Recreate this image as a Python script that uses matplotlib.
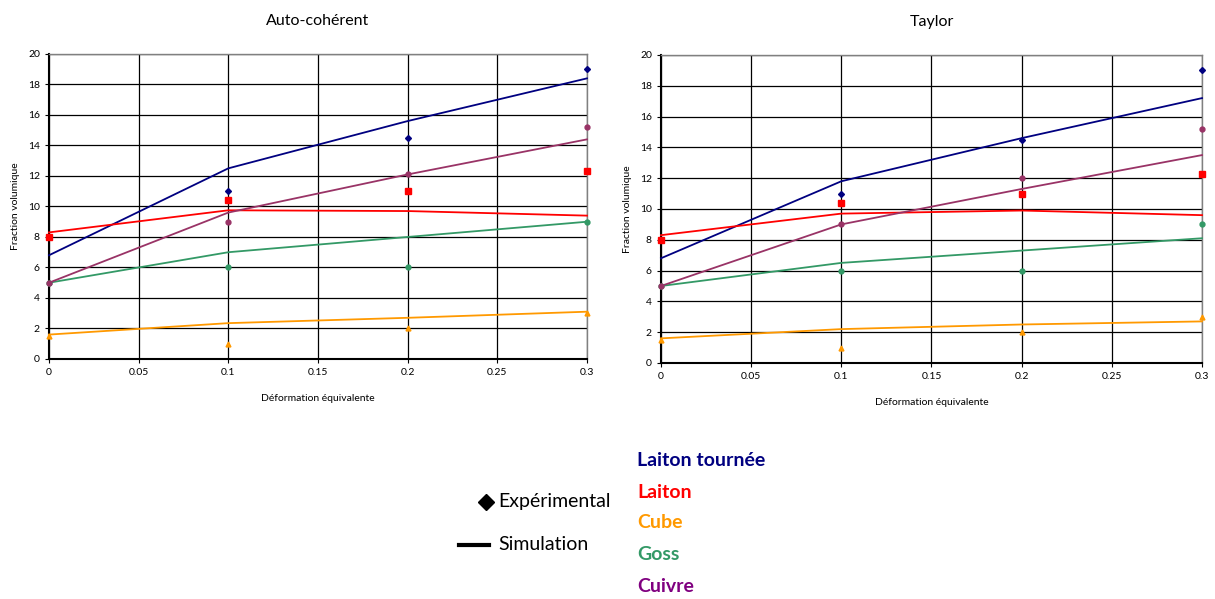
import matplotlib
matplotlib.use("Agg")
import matplotlib.pyplot as plt
from matplotlib.lines import Line2D

plt.rcParams['font.family'] = ['Lato', 'DejaVu Sans']

strain = [0, 0.1, 0.2, 0.3]
series_names = ["Laiton tournée", "Laiton", "Cube", "Goss", "Cuivre"]

# Auto-cohérent
ac_sim = {
    "Laiton tournée": [6.8, 12.5, 15.6, 18.4],
    "Laiton": [8.3, 9.75, 9.7, 9.4],
    "Cube": [1.6, 2.35, 2.7, 3.1],
    "Goss": [5.0, 7.0, 8.0, 9.0],
    "Cuivre": [5.0, 9.6, 12.1, 14.4],
}
# Taylor
ty_sim = {
    "Laiton tournée": [6.8, 11.8, 14.6, 17.2],
    "Laiton": [8.3, 9.7, 9.9, 9.6],
    "Cube": [1.6, 2.2, 2.5, 2.7],
    "Goss": [5.0, 6.5, 7.3, 8.1],
    "Cuivre": [5.0, 9.0, 11.3, 13.5],
}
# Experimental
exp_ac = {
    "Laiton tournée": [None, 11.0, 14.5, 19.0],
    "Laiton": [8.0, 10.4, 11.0, 12.3],
    "Cube": [1.5, 1.0, 2.0, 3.0],
    "Goss": [5.0, 6.0, 6.0, 9.0],
    "Cuivre": [5.0, 9.0, 12.1, 15.2],
}
exp_ty = {
    "Laiton tournée": [None, 11.0, 14.5, 19.0],
    "Laiton": [8.0, 10.4, 11.0, 12.3],
    "Cube": [1.5, 1.0, 2.0, 3.0],
    "Goss": [5.0, 6.0, 6.0, 9.0],
    "Cuivre": [5.0, 9.0, 12.0, 15.2],
}

line_colors = {"Laiton tournée": "#000080", "Laiton": "#FF0000", "Cube": "#FF9900",
               "Goss": "#339966", "Cuivre": "#993366"}
label_colors = {"Laiton tournée": "#000080", "Laiton": "#FF0000", "Cube": "#FF9900",
                "Goss": "#339966", "Cuivre": "#800080"}
markers = {"Laiton tournée": ("D", 3), "Laiton": ("s", 4.5), "Cube": ("^", 3.5),
           "Goss": ("o", 3.5), "Cuivre": ("o", 3.5)}

xticks = [0, 0.05, 0.1, 0.15, 0.2, 0.25, 0.3]
xticklabels = ["0", "0.05", "0.1", "0.15", "0.2", "0.25", "0.3"]
yticks = list(range(0, 21, 2))

fig = plt.figure(figsize=(12.15, 5.99), dpi=100)
ax1 = fig.add_axes([0.0403, 0.4007, 0.4428, 0.5092])
ax2 = fig.add_axes([0.544, 0.394, 0.4453, 0.5142])


def draw(ax, sim, exp, title):
    for name in series_names:
        ax.plot(strain, sim[name], color=line_colors[name], lw=1.3, zorder=3, clip_on=False)
        xs = [s for s, v in zip(strain, exp[name]) if v is not None]
        ys = [v for v in exp[name] if v is not None]
        m, ms = markers[name]
        ax.plot(xs, ys, ls="none", marker=m, ms=ms, color=line_colors[name],
                zorder=4, clip_on=False)
    ax.set_xlim(0, 0.3)
    ax.set_ylim(0, 20)
    ax.set_xticks(xticks)
    ax.set_xticklabels(xticklabels)
    ax.set_yticks(yticks)
    ax.grid(True, color="black", lw=0.9)
    ax.tick_params(labelsize=7.5, length=3, color="black", direction="out")
    for sp in ax.spines.values():
        sp.set_color("#808080")
        sp.set_linewidth(1.0)
    ax.spines["left"].set_color("black")
    ax.spines["left"].set_linewidth(1.5)
    ax.spines["bottom"].set_color("black")
    ax.spines["bottom"].set_linewidth(1.5)
    ax.set_title(title, fontsize=11.5, pad=21)
    ax.set_xlabel("Déformation équivalente", fontsize=7.5, labelpad=12)
    ax.set_ylabel("Fraction volumique", fontsize=7.5, labelpad=6)


draw(ax1, ac_sim, exp_ac, "Auto-cohérent")
draw(ax2, ty_sim, exp_ty, "Taylor")

# Legend (marker type)
fig.add_artist(Line2D([486 / 1215], [1 - 502 / 599], marker="D", ms=8, color="black", ls="none"))
fig.text(498 / 1215, 1 - 502 / 599, "Expérimental", fontsize=14, va="center", ha="left")
fig.add_artist(Line2D([459 / 1215, 489 / 1215], [1 - 545 / 599, 1 - 545 / 599], color="black", lw=3))
fig.text(498 / 1215, 1 - 545 / 599, "Simulation", fontsize=14, va="center", ha="left")

# Legend (colors)
ys_px = [460, 492, 523, 555, 587]
for name, ypx in zip(series_names, ys_px):
    fig.text(637 / 1215, 1 - ypx / 599, name, fontsize=14, fontweight="bold",
             color=label_colors[name], va="center", ha="left")

fig.savefig("out.png", dpi=100)
